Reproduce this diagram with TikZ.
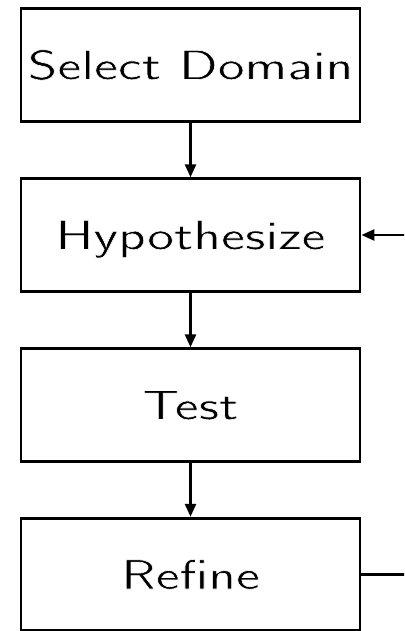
\documentclass[tikz,border=0pt]{standalone}
\usepackage{fontspec}
\setsansfont{lmsans17-regular.otf}[FakeStretch=1.36]
\usetikzlibrary{arrows.meta}
\newcommand\thintext[1]{\special{pdf:code 2 Tr 1 1 1 RG 0.6 w}#1\special{pdf:code 0 Tr 0 0 0 RG}}
\begin{document}
\begin{tikzpicture}[x=1pt,y=-1pt,
  stepbox/.style={draw, line width=2.9pt, minimum width=339pt, minimum height=112.5pt,
    inner sep=0pt, text height=29pt, text depth=0pt,
    font=\sffamily\fontsize{42}{50}\selectfont},
  flow/.style={line width=2.6pt, -{Triangle[length=13pt,width=11pt]}}]
\useasboundingbox (0,0) rectangle (404,631);
\clip (0,0) rectangle (404,631);
\node[stepbox] (sel) at (190.5,65) {\thintext{Select Domain}};
\node[stepbox] (hyp) at (190.5,235) {\thintext{Hypothesize}};
\node[stepbox] (tst) at (190.5,405) {\thintext{Test}};
\node[stepbox] (ref) at (190.5,574.5) {\thintext{Refine}};
\draw[flow] (sel) -- (hyp);
\draw[flow] (hyp) -- (tst);
\draw[flow] (tst) -- (ref);
\coordinate (loop) at (440,0);
\draw[flow] (ref.east) -- (ref.east -| loop) -- (hyp.east -| loop) -- (hyp.east);
\end{tikzpicture}
\end{document}
